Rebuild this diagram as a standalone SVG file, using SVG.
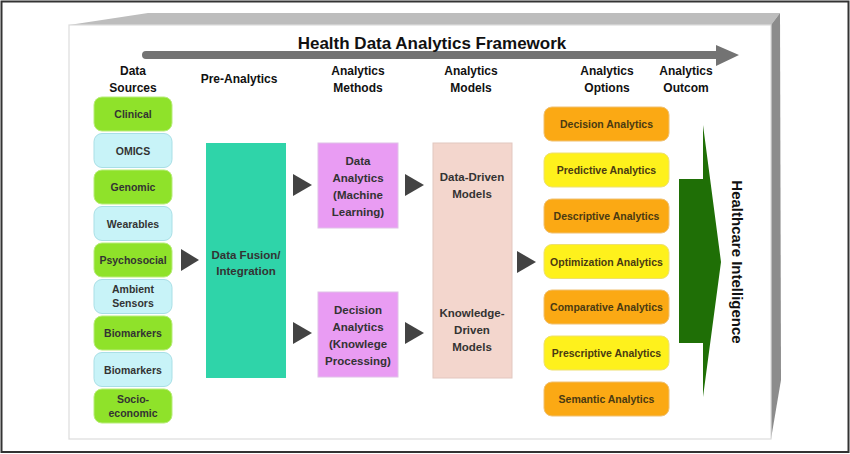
<svg xmlns="http://www.w3.org/2000/svg" width="850" height="454" viewBox="0 0 850 454">
<defs>
<style>
text{font-family:"Liberation Sans",Arial,sans-serif;font-weight:bold;text-anchor:middle;fill:#222}
.hdr{font-size:12px;fill:#111}
.src{font-size:10.5px;fill:#333}
.opt{font-size:10.5px;fill:#4a3a12}
.mid{font-size:11.5px;fill:#333}
.green{fill:#8fe22a;stroke:#b8ec7a;stroke-width:1}
.cyan{fill:#c8f3f8;stroke:#a9dfe6;stroke-width:1}
.orange{fill:#fba914;stroke:#f0c070;stroke-width:1}
.yellow{fill:#fef11c;stroke:#eee070;stroke-width:1}
.tri{fill:#434343}
</style>
</defs>
<rect x="0" y="0" width="850" height="454" fill="#fff"/>
<rect x="1.5" y="1.5" width="847" height="450.5" fill="none" stroke="#333" stroke-width="2"/>
<!-- 3D box -->
<polygon points="69,25 148,13 780,13 771,25" fill="#bdbdbd"/>
<polygon points="771,25 780,13 781,380 771,439" fill="#8c8c8c"/>
<rect x="69" y="25" width="702" height="414" fill="#fff" stroke="#dcdcdc" stroke-width="1.2"/>
<!-- framework arrow -->
<g id="framework-arrow">
<path d="M146,51 L716,51 L716,45 L739,55 L716,66 L716,59 L146,59 A4,4 0 0 1 146,51 Z" fill="#737373"/>
<text x="432" y="49" style="font-size:17px;fill:#111">Health Data Analytics Framework</text>
</g>
<!-- headers -->
<g id="headers">
<text class="hdr" x="133" y="75">Data</text><text class="hdr" x="133" y="92">Sources</text>
<text class="hdr" x="239" y="83">Pre-Analytics</text>
<text class="hdr" x="358" y="75">Analytics</text><text class="hdr" x="358" y="92">Methods</text>
<text class="hdr" x="471" y="75">Analytics</text><text class="hdr" x="471" y="92">Models</text>
<text class="hdr" x="607" y="75">Analytics</text><text class="hdr" x="607" y="92">Options</text>
<text class="hdr" x="686" y="75">Analytics</text><text class="hdr" x="686" y="92">Outcom</text>
</g>
<!-- data sources -->
<g id="src-clinical"><rect class="green" x="94" y="97" width="78" height="34" rx="8"/><text class="src" x="133" y="118">Clinical</text></g>
<g id="src-omics"><rect class="cyan" x="94" y="133.5" width="78" height="34" rx="8"/><text class="src" x="133" y="154.5">OMICS</text></g>
<g id="src-genomic"><rect class="green" x="94" y="170" width="78" height="34" rx="8"/><text class="src" x="133" y="191">Genomic</text></g>
<g id="src-wearables"><rect class="cyan" x="94" y="206.5" width="78" height="34" rx="8"/><text class="src" x="133" y="227.5">Wearables</text></g>
<g id="src-psychosocial"><rect class="green" x="94" y="243" width="78" height="34" rx="8"/><text class="src" x="133" y="264">Psychosocial</text></g>
<g id="src-ambient"><rect class="cyan" x="94" y="279.5" width="78" height="34" rx="8"/><text class="src" x="133" y="293">Ambient</text><text class="src" x="133" y="307">Sensors</text></g>
<g id="src-biomarkers1"><rect class="green" x="94" y="316" width="78" height="34" rx="8"/><text class="src" x="133" y="337">Biomarkers</text></g>
<g id="src-biomarkers2"><rect class="cyan" x="94" y="352.5" width="78" height="34" rx="8"/><text class="src" x="133" y="373.5">Biomarkers</text></g>
<g id="src-socio"><rect class="green" x="94" y="389" width="78" height="34" rx="8"/><text class="src" x="133" y="402.5">Socio-</text><text class="src" x="133" y="416.5">economic</text></g>
<!-- pre-analytics -->
<g id="fusion"><rect x="206" y="143" width="80" height="235" fill="#2fd4a9"/><text class="mid" x="246" y="259">Data Fusion/</text><text class="mid" x="246" y="275">Integration</text></g>
<!-- methods -->
<g id="method-data"><rect x="318" y="143" width="80" height="85" fill="#e99cf3" stroke="#e0c0e8" stroke-width="1"/>
<text class="mid" x="358" y="165">Data</text><text class="mid" x="358" y="182">Analytics</text><text class="mid" x="358" y="199">(Machine</text><text class="mid" x="358" y="216">Learning)</text></g>
<g id="method-decision"><rect x="318" y="292" width="80" height="85" fill="#e99cf3" stroke="#e0c0e8" stroke-width="1"/>
<text class="mid" x="358" y="314">Decision</text><text class="mid" x="358" y="331">Analytics</text><text class="mid" x="358" y="348">(Knowlege</text><text class="mid" x="358" y="365">Processing)</text></g>
<!-- models -->
<g id="models"><rect x="433" y="143" width="79" height="235" fill="#f3d6cd" stroke="#e2c7bf" stroke-width="1"/>
<text class="mid" x="472" y="181">Data-Driven</text><text class="mid" x="472" y="198">Models</text>
<text class="mid" x="472" y="317">Knowledge-</text><text class="mid" x="472" y="334">Driven</text><text class="mid" x="472" y="351">Models</text></g>
<!-- options -->
<g id="opt-decision"><rect class="orange" x="544" y="107" width="125" height="34" rx="8"/><text class="opt" x="606.5" y="128">Decision Analytics</text></g>
<g id="opt-predictive"><rect class="yellow" x="544" y="153" width="125" height="34" rx="8"/><text class="opt" x="606.5" y="174">Predictive Analytics</text></g>
<g id="opt-descriptive"><rect class="orange" x="544" y="199" width="125" height="34" rx="8"/><text class="opt" x="606.5" y="220">Descriptive Analytics</text></g>
<g id="opt-optimization"><rect class="yellow" x="544" y="244.5" width="125" height="34" rx="8"/><text class="opt" x="606.5" y="265.5">Optimization Analytics</text></g>
<g id="opt-comparative"><rect class="orange" x="544" y="290" width="125" height="34" rx="8"/><text class="opt" x="606.5" y="311">Comparative Analytics</text></g>
<g id="opt-prescriptive"><rect class="yellow" x="544" y="336" width="125" height="34" rx="8"/><text class="opt" x="606.5" y="357">Prescriptive Analytics</text></g>
<g id="opt-semantic"><rect class="orange" x="544" y="382" width="125" height="34" rx="8"/><text class="opt" x="606.5" y="403">Semantic Analytics</text></g>
<!-- outcome -->
<g id="outcome">
<polygon points="679,179 703,179 703,125 721,262 703,397 703,343 679,343" fill="#1f6f06"/>
<text transform="translate(732,262) rotate(90)" x="0" y="0" style="font-size:15px;fill:#111">Healthcare Intelligence</text>
</g>
<!-- connectors -->
<g id="connectors">
<polygon class="tri" points="181,249 199,260 181,271"/>
<polygon class="tri" points="293,174 312,185 293,196"/>
<polygon class="tri" points="293,322 312,333 293,344"/>
<polygon class="tri" points="405,174 424,185 405,196"/>
<polygon class="tri" points="405,322 424,333 405,344"/>
<polygon class="tri" points="517,251 536,262 517,273"/>
</g>
</svg>
